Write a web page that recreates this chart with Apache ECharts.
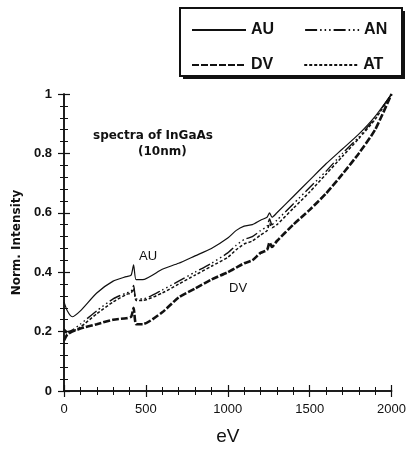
<!DOCTYPE html>
<html><head><meta charset="utf-8">
<script src="https://cdn.jsdelivr.net/npm/echarts@6/dist/echarts.min.js"></script>
<style>html,body{margin:0;padding:0;background:#fff}#c{width:409px;height:455px}</style>
</head><body><div id="c"></div>
<script>
const energy = [0, 20, 50, 100, 200, 300, 380, 410, 425, 440, 480, 600, 700, 800, 900, 1000, 1050, 1100, 1150, 1200, 1240, 1255, 1270, 1300, 1400, 1500, 1600, 1700, 1800, 1900, 2000];
const AU = [0.30, 0.27, 0.25, 0.27, 0.33, 0.37, 0.385, 0.39, 0.425, 0.375, 0.375, 0.41, 0.43, 0.455, 0.48, 0.515, 0.54, 0.555, 0.56, 0.575, 0.585, 0.60, 0.585, 0.60, 0.655, 0.71, 0.765, 0.815, 0.865, 0.925, 1.0];
const AN = [0.21, 0.20, 0.205, 0.225, 0.27, 0.31, 0.33, 0.335, 0.355, 0.31, 0.31, 0.34, 0.37, 0.40, 0.43, 0.465, 0.49, 0.51, 0.52, 0.54, 0.555, 0.58, 0.56, 0.575, 0.63, 0.685, 0.74, 0.80, 0.855, 0.92, 1.0];
const AT = [0.20, 0.195, 0.20, 0.215, 0.26, 0.30, 0.325, 0.33, 0.345, 0.305, 0.305, 0.33, 0.36, 0.39, 0.42, 0.45, 0.475, 0.495, 0.505, 0.525, 0.54, 0.565, 0.55, 0.56, 0.615, 0.67, 0.73, 0.79, 0.85, 0.915, 1.0];
const DV = [0.17, 0.19, 0.20, 0.21, 0.225, 0.24, 0.245, 0.25, 0.28, 0.225, 0.225, 0.265, 0.315, 0.345, 0.375, 0.40, 0.415, 0.43, 0.44, 0.465, 0.475, 0.50, 0.485, 0.505, 0.56, 0.61, 0.665, 0.73, 0.80, 0.88, 1.0];
const xTicks = [0, 500, 1000, 1500, 2000];
const yTicks = [0, 0.2, 0.4, 0.6, 0.8, 1];

const pair = arr => energy.map((e, i) => [e, arr[i]]);
const font = 'Liberation Sans, Arial, sans-serif';
const wide = 'DejaVu Sans, sans-serif';
const chart = echarts.init(document.getElementById('c'), null, {renderer: 'canvas'});
const axisCommon = () => ({
  axisLine: {show: true, lineStyle: {color: '#111', width: 1.5}},
  axisTick: {show: true, inside: true, length: 6, lineStyle: {color: '#111', width: 1.2}},
  minorTick: {show: true, splitNumber: 5, length: 4, lineStyle: {color: '#111', width: 1}},
  splitLine: {show: false}
});
const mk = (name, data, w, dash) => ({
  name, type: 'line', data: pair(data), symbol: 'none', smooth: 0.2,
  xAxisIndex: 0, yAxisIndex: 0,
  lineStyle: {color: '#111', width: w, type: dash},
  itemStyle: {color: '#111'}
});
const legendText = {fontFamily: font, fontSize: 16, fontWeight: 'bold', color: '#111'};
chart.setOption({
  animation: false,
  backgroundColor: '#fff',
  grid: {left: 64, right: 16, top: 94, bottom: 64},
  xAxis: [
    Object.assign(axisCommon(), {type: 'value', min: 0, max: 2000, interval: 500, position: 'bottom',
      name: 'eV', nameLocation: 'middle', nameGap: 36,
      nameTextStyle: {fontFamily: font, fontSize: 19, color: '#111'},
      axisLabel: {fontFamily: font, fontSize: 13, color: '#111', margin: 12,
        formatter: v => xTicks.includes(v) ? String(v) : ''}}),
    Object.assign(axisCommon(), {type: 'value', min: 0, max: 2000, interval: 500, position: 'top',
      axisLabel: {show: false}})
  ],
  yAxis: [
    Object.assign(axisCommon(), {type: 'value', min: 0, max: 1, interval: 0.2, position: 'left',
      name: 'Norm. Intensity', nameLocation: 'middle', nameGap: 41, nameRotate: 90,
      nameTextStyle: {fontFamily: wide, fontSize: 12, fontWeight: 'bold', color: '#111'},
      axisLabel: {fontFamily: font, fontSize: 13, fontWeight: 'bold', color: '#111', margin: 12,
        formatter: v => { const t = yTicks.find(y => Math.abs(y - v) < 1e-9); return t === undefined ? '' : String(t); }}}),
    Object.assign(axisCommon(), {type: 'value', min: 0, max: 1, interval: 0.2, position: 'right',
      axisLabel: {show: false}})
  ],
  legend: [
    {data: ['AU', 'AN'], left: 186, top: 17, itemWidth: 54, itemHeight: 12, itemGap: 30,
      itemStyle: {opacity: 0}, textStyle: legendText, selectedMode: false},
    {data: ['DV', 'AT'], left: 186, top: 52, itemWidth: 54, itemHeight: 12, itemGap: 30,
      itemStyle: {opacity: 0}, textStyle: legendText, selectedMode: false}
  ],
  graphic: [
    {type: 'rect', shape: {x: 183, y: 11, width: 222, height: 68}, z: -2, style: {fill: '#111'}},
    {type: 'rect', shape: {x: 180, y: 8, width: 222, height: 68}, z: -1,
      style: {fill: '#fff', stroke: '#111', lineWidth: 2}},
    {type: 'text', left: 93, top: 130, style: {text: 'spectra of InGaAs', fontFamily: wide, fontSize: 12, fontWeight: 'bold', fill: '#111'}},
    {type: 'text', left: 138, top: 146, style: {text: '(10nm)', fontFamily: wide, fontSize: 12, fontWeight: 'bold', fill: '#111'}},
    {type: 'text', left: 139, top: 250, style: {text: 'AU', fontFamily: font, fontSize: 13, fill: '#111'}},
    {type: 'text', left: 229, top: 282, style: {text: 'DV', fontFamily: font, fontSize: 13, fill: '#111'}}
  ],
  series: [
    mk('AU', AU, 1.2, 'solid'),
    mk('AN', AN, 1.4, [12, 3, 1.5, 3, 1.5, 3, 1.5, 3]),
    mk('DV', DV, 2.6, [7, 2]),
    mk('AT', AT, 1.5, [3, 2])
  ]
});
</script></body></html>
